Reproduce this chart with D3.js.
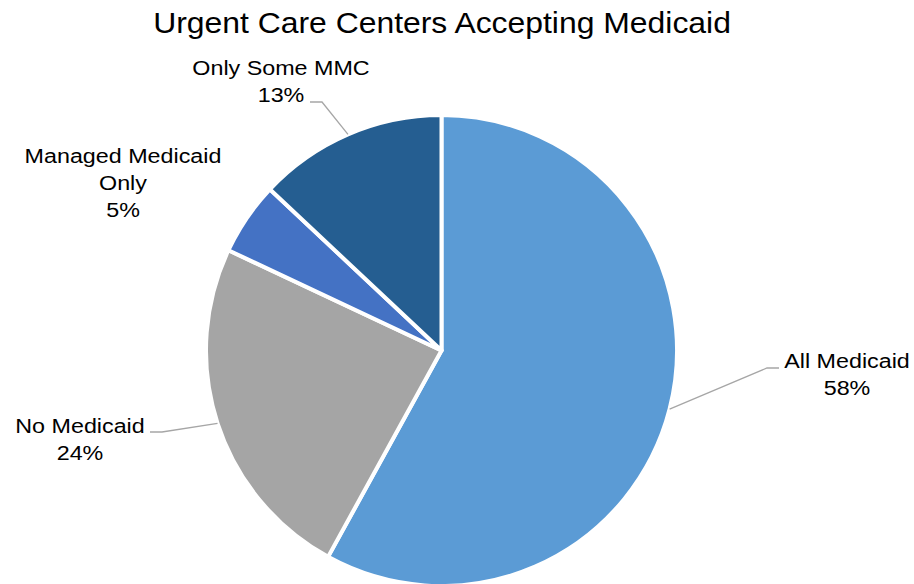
<!DOCTYPE html>
<html>
<head>
<meta charset="utf-8">
<script src="https://cdn.jsdelivr.net/npm/d3@7"></script>
<style>
  html, body { margin: 0; padding: 0; background: #fff; }
  svg { display: block; }
  text { font-family: "Liberation Sans", Arial, sans-serif; fill: #000; }
</style>
</head>
<body>
<svg id="chart" width="914" height="584"></svg>
<script>
// Share of urgent care centers by Medicaid acceptance
const categories = ["All Medicaid", "No Medicaid", "Managed Medicaid Only", "Only Some MMC"];
const values = [58, 24, 5, 13];
const colors = ["#5B9BD5", "#A5A5A5", "#4472C4", "#255E91"];
// Label lines as drawn (the long category name wraps)
const labelLines = [["All Medicaid"], ["No Medicaid"], ["Managed Medicaid", "Only"], ["Only Some MMC"]];
const title = "Urgent Care Centers Accepting Medicaid";

const svg = d3.select("#chart");
const W = 914, H = 584;
const cx = 441.5, cy = 350.5, R = 235.5;
const sx = 1.11; // horizontal stretch of text glyphs

svg.append("rect").attr("width", W).attr("height", H).attr("fill", "#fff");

svg.append("text")
  .attr("transform", `translate(442,33) scale(1.1,1)`)
  .attr("text-anchor", "middle")
  .style("font-size", "29px")
  .text(title);

const data = categories.map((c, i) => ({ name: c, value: values[i], color: colors[i], lines: labelLines[i] }));

const pie = d3.pie().value(d => d.value).sort(null);
const arcs = pie(data);
const arc = d3.arc().innerRadius(0).outerRadius(R);

const g = svg.append("g").attr("transform", `translate(${cx},${cy})`);
g.selectAll("path.slice")
  .data(arcs)
  .join("path")
  .attr("class", "slice")
  .attr("d", arc)
  .attr("fill", d => d.data.color)
  .attr("stroke", "#fff")
  .attr("stroke-width", 4)
  .attr("stroke-linejoin", "round");

// Label placement: block centre x, first baseline, and leader line bends
const labelPos = [
  { x: 847, y: 368, leader: [[779, 368], [767, 368]] },
  { x: 80,  y: 433, leader: [[150, 432], [162, 432]] },
  { x: 123, y: 163, leader: null },
  { x: 281, y: 75,  leader: [[310, 102], [322, 102]] }
];
const lineH = 27;

// point on the rim of a slice, at its middle angle
function rimPoint(a) {
  const ang = (a.startAngle + a.endAngle) / 2;
  return [cx + R * Math.sin(ang), cy - R * Math.cos(ang)];
}

arcs.forEach((a, i) => {
  const p = labelPos[i];
  if (p.leader) {
    const pts = p.leader.concat([rimPoint(a)]);
    svg.append("path")
      .attr("d", d3.line()(pts))
      .attr("fill", "none")
      .attr("stroke", "#A6A6A6")
      .attr("stroke-width", 1.3);
  }
  const lines = a.data.lines.concat([d3.format(".0f")(a.data.value) + "%"]);
  lines.forEach((t, k) => {
    svg.append("text")
      .attr("transform", `translate(${p.x},${p.y + k * lineH}) scale(${sx},1)`)
      .attr("text-anchor", "middle")
      .style("font-size", "21px")
      .text(t);
  });
});
</script>
</body>
</html>
